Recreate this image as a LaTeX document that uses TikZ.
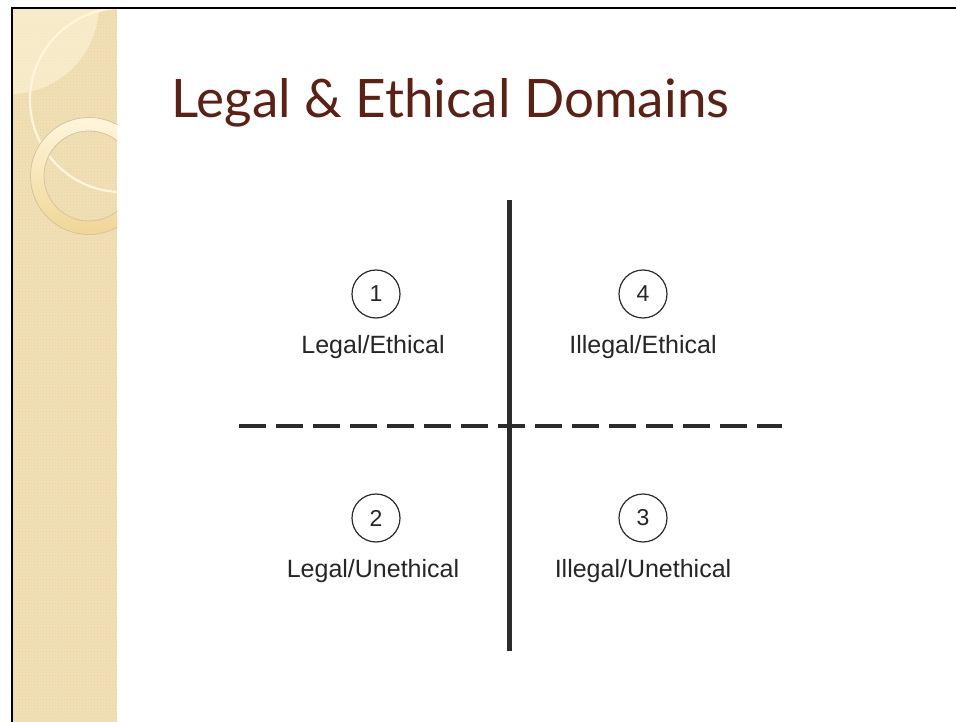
\documentclass[tikz,border=0pt]{standalone}
\usepackage{fontspec}
\setmainfont{Liberation Sans}
\newfontfamily\titlefont{Lato}
\usetikzlibrary{patterns}
\definecolor{titlebrown}{HTML}{5A2216}
\definecolor{strip}{HTML}{F1DFB6}
\definecolor{stripdark}{HTML}{E9D4A4}
\definecolor{cream}{HTML}{FFF6DC}
\definecolor{ringedge}{HTML}{D6C4A0}
\definecolor{linegray}{HTML}{2B2B2B}
\tikzset{
  numcircle/.style={circle, draw=linegray, line width=1.2pt, minimum size=48pt, inner sep=0pt, font=\fontsize{23}{25}\selectfont, text=black!85},
  quadlabel/.style={anchor=base, inner sep=0pt, font=\fontsize{25}{28}\selectfont, text=black!85},
  axisline/.style={draw=linegray, line width=5pt},
  dashline/.style={draw=linegray, line width=3.5pt, dash pattern=on 27pt off 10pt}
}
\begin{document}
\begin{tikzpicture}[x=1pt,y=-1pt]
\useasboundingbox (0,0) rectangle (956,722);
\fill[white] (0,0) rectangle (956,722);
% decorative strip
\fill[strip] (12,8) rectangle (117,722);
\fill[pattern=crosshatch dots, pattern color=stripdark] (12,8) rectangle (117,722);
\begin{scope}
\clip (12,8) rectangle (117,722);
\fill[cream, opacity=0.55] (10,5) circle[radius=89];
\draw[cream, line width=2.2pt] (122,100) circle[radius=92];
\shade[top color=cream, bottom color={rgb,255:red,240;green,214;blue,150}, even odd rule, draw=ringedge, line width=0.8pt]
  (89,176) circle[radius=58.5] (89,176) circle[radius=45];
\end{scope}
% border
\draw[black, line width=2.2pt] (12,722) -- (12,8) -- (956,8);
% title
\node[anchor=base west, inner sep=0pt, text=titlebrown, font=\titlefont\fontsize{53}{60}\selectfont] (title) at (171,118) {Legal \& Ethical Domains};
% axes
\coordinate (vt) at (509,200);
\coordinate (vb) at (509,651);
\coordinate (hl) at (239,426);
\coordinate (hr) at (782,426);
\draw[dashline] (hl) -- (hr);
\draw[axisline] (vt) -- (vb);
% quadrants
\node[numcircle] (c1) at (376,294) {1};
\node[numcircle] (c4) at (643,294) {4};
\node[numcircle] (c2) at (376,518) {2};
\node[numcircle] (c3) at (643,518) {3};
\node[quadlabel] (l1) at (373,353) {Legal/Ethical};
\node[quadlabel] (l4) at (643,353) {Illegal/Ethical};
\node[quadlabel] (l2) at (373,577) {Legal/Unethical};
\node[quadlabel] (l3) at (643,577) {Illegal/Unethical};
\end{tikzpicture}
\end{document}
